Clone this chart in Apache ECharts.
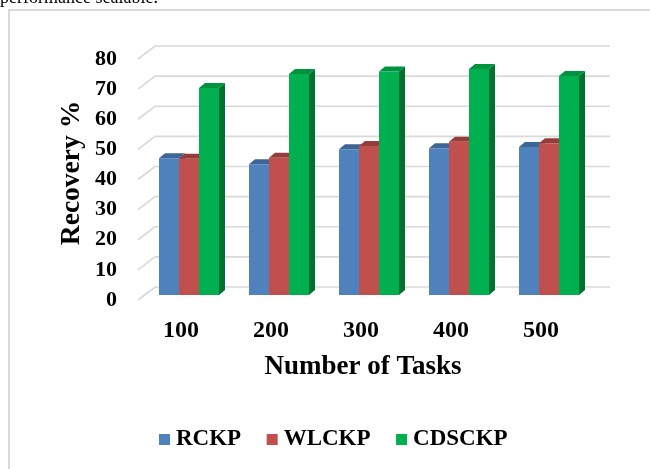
<!DOCTYPE html>
<html>
<head>
<meta charset="utf-8">
<script src="https://cdn.jsdelivr.net/npm/echarts@6/dist/echarts.min.js"></script>
<style>
  html, body { margin: 0; padding: 0; background: #fff; }
  #chart { width: 650px; height: 469px; }
</style>
</head>
<body>
<div id="chart"></div>
<script>
// Recovery percentage per number of tasks
const categories = ['100', '200', '300', '400', '500'];
const seriesNames = ['RCKP', 'WLCKP', 'CDSCKP'];
const rckp = [45.4, 43.4, 48.4, 48.7, 49.1];
const wlckp = [45.2, 45.6, 49.5, 50.9, 50.4];
const cdsckp = [68.7, 73.4, 74.2, 75.0, 72.7];
const yTicks = [0, 10, 20, 30, 40, 50, 60, 70, 80];

// face colours: front, top, side
const palette = [
  { front: '#4f81bd', top: '#3d6595', side: '#3a5f8c' },
  { front: '#c0504d', top: '#963c3a', side: '#8e3836' },
  { front: '#00b050', top: '#00933f', side: '#00722f' }
];

const SERIF = '"Liberation Serif", "Times New Roman", serif';
const BAR_W = 20;      // width of a single prism front face
const DEPTH_X = 6;     // prism depth offset
const DEPTH_Y = 5;

const chart = echarts.init(document.getElementById('chart'));

function prismRenderer(idx) {
  return function (params, api) {
    const cat = api.value(0);
    const v = api.value(1);
    const top = api.coord([cat, v]);
    const base = api.coord([cat, 0]);
    const x0 = top[0] - 1.5 * BAR_W + idx * BAR_W;
    const yt = top[1], yb = base[1];
    const c = palette[idx];
    return {
      type: 'group',
      children: [
        { type: 'polygon', shape: { points: [[x0 + BAR_W, yt], [x0 + BAR_W + DEPTH_X, yt - DEPTH_Y], [x0 + BAR_W + DEPTH_X, yb - DEPTH_Y], [x0 + BAR_W, yb]] }, style: { fill: c.side } },
        { type: 'polygon', shape: { points: [[x0, yt], [x0 + BAR_W, yt], [x0 + BAR_W + DEPTH_X, yt - DEPTH_Y], [x0 + DEPTH_X, yt - DEPTH_Y]] }, style: { fill: c.top } },
        { type: 'rect', shape: { x: x0, y: yt, width: BAR_W, height: yb - yt }, style: { fill: c.front } }
      ]
    };
  };
}

// back wall gridlines with the receding floor edge
function wallRenderer(params, api) {
  const cs = params.coordSys;
  const y = api.coord([0, api.value(1)])[1];
  return {
    type: 'polyline',
    shape: { points: [[cs.x - 6, y + 5], [cs.x + 11, y - 8], [cs.x + 466, y - 8]] },
    style: { stroke: '#d9d9d9', lineWidth: 1.6, fill: null }
  };
}

const valueSets = [rckp, wlckp, cdsckp];

const option = {
  animation: false,
  backgroundColor: '#ffffff',
  grid: [
    { left: 144, top: 54, width: 450, height: 241 },
    { left: 136, top: 59, width: 450, height: 241 }
  ],
  xAxis: [
    { type: 'category', gridIndex: 0, data: categories, show: false },
    {
      type: 'category', gridIndex: 1, data: categories,
      axisLine: { show: false }, axisTick: { show: false },
      axisLabel: { fontFamily: SERIF, fontWeight: 'bold', fontSize: 24, color: '#000', margin: 19 }
    }
  ],
  yAxis: [
    { type: 'value', gridIndex: 0, min: 0, max: 80, interval: 10, show: false },
    {
      type: 'value', gridIndex: 1, min: 0, max: 80, interval: 10,
      axisLine: { show: false }, axisTick: { show: false }, splitLine: { show: false },
      axisLabel: { fontFamily: SERIF, fontWeight: 'bold', fontSize: 22, color: '#000', margin: 19 }
    }
  ],
  legend: {
    data: seriesNames.map(n => ({ name: n, icon: 'rect' })),
    left: 154, top: 423,
    itemWidth: 11, itemHeight: 11, itemGap: 25.5,
    textStyle: { fontFamily: SERIF, fontWeight: 'bold', fontSize: 23, color: '#000', padding: [0, 0, 0, 1] }
  },
  graphic: [
    { type: 'rect', shape: { x: 9, y: 10, width: 700, height: 500 }, style: { fill: null, stroke: '#d9d9d9', lineWidth: 2 }, silent: true },
    { type: 'text', x: 0, y: 7, style: { text: 'performance scalable.', font: '18px ' + SERIF, fill: '#000', verticalAlign: 'bottom' } },
    { type: 'text', x: 363, y: 367, style: { text: 'Number of Tasks', font: 'bold 27px ' + SERIF, fill: '#000', align: 'center', verticalAlign: 'middle' } },
    { type: 'text', x: 72, y: 173, rotation: Math.PI / 2, style: { text: 'Recovery %', font: 'bold 27.5px ' + SERIF, fill: '#000', align: 'center', verticalAlign: 'middle' } }
  ],
  series: [
    {
      type: 'custom', name: 'wall', xAxisIndex: 0, yAxisIndex: 0,
      data: yTicks.map(v => [0, v]), renderItem: wallRenderer, z: 1, silent: true
    }
  ].concat(valueSets.map((vals, i) => ({
    type: 'custom', name: seriesNames[i], xAxisIndex: 0, yAxisIndex: 0,
    itemStyle: { color: palette[i].front },
    data: vals.map((v, k) => [k, v]),
    renderItem: prismRenderer(i),
    z: 2 + i
  })))
};

chart.setOption(option);
</script>
</body>
</html>
